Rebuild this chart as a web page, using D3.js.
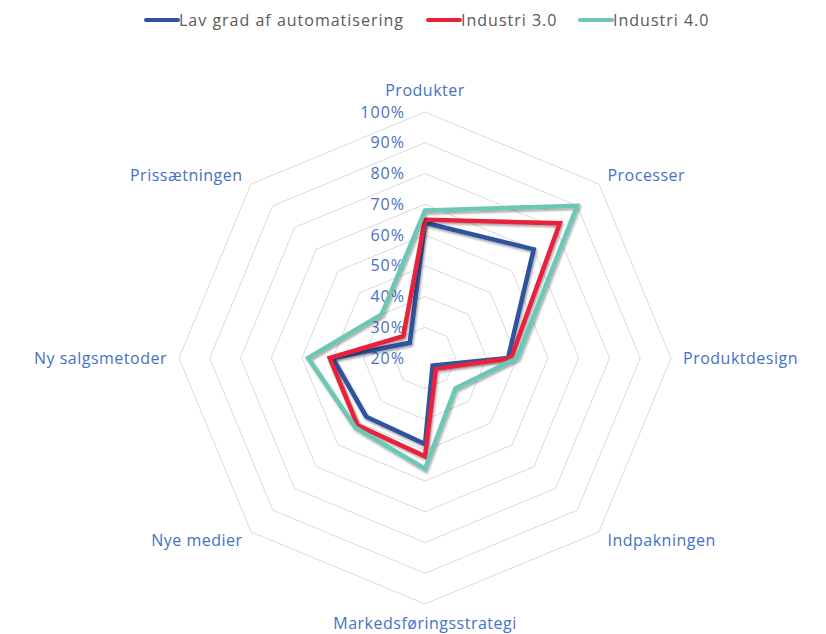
<!DOCTYPE html>
<html>
<head>
<meta charset="utf-8">
<script src="https://cdn.jsdelivr.net/npm/d3@7"></script>
<style>
  body { margin: 0; background: #fff; }
</style>
</head>
<body>
<script>
var categories = ["Produkter", "Processer", "Produktdesign", "Indpakningen",
  "Markedsføringsstrategi", "Nye medier", "Ny salgsmetoder", "Prissætningen"];
var seriesNames = ["Lav grad af automatisering", "Industri 3.0", "Industri 4.0"];
var seriesColors = ["rgb(47,82,160)", "rgb(232,32,58)", "rgb(108,200,180)"];
var lavGrad = [0.64, 0.70, 0.47, 0.235, 0.48, 0.47, 0.50, 0.27];
var industri3 = [0.65, 0.82, 0.48, 0.25, 0.52, 0.51, 0.51, 0.30];
var industri4 = [0.68, 0.90, 0.50, 0.34, 0.56, 0.52, 0.58, 0.40];
var ticks = [0.2, 0.3, 0.4, 0.5, 0.6, 0.7, 0.8, 0.9, 1.0];

var seriesValues = [lavGrad, industri3, industri4];

var width = 826, height = 634;
var cx = 425, cy = 358, outerRad = 246;
var pi = Math.PI;
var textBlue = "rgb(68,114,196)";

var svg = d3.select("body").append("svg")
  .attr("width", width).attr("height", height);

var defs = svg.append("defs");
var shadow = defs.append("filter").attr("id", "shadow")
  .attr("x", "-10%").attr("y", "-10%").attr("width", "120%").attr("height", "120%");
shadow.append("feDropShadow")
  .attr("dx", 1.2).attr("dy", 2)
  .attr("stdDeviation", 1.3)
  .attr("flood-color", "#000")
  .attr("flood-opacity", 0.35);

var r = d3.scaleLinear().domain([0.2, 1.0]).range([0, outerRad]);
var angle = d3.scalePoint().domain(d3.range(categories.length + 1)).range([0, 2 * pi]);

var g = svg.append("g").attr("transform", "translate(" + cx + "," + cy + ")");

// octagon grid rings
var ring = d3.lineRadial()
  .angle(function(d, i) { return angle(i); })
  .radius(function(d) { return r(d); })
  .curve(d3.curveLinearClosed);

ticks.slice(1).forEach(function(t) {
  g.append("path")
    .attr("d", ring(categories.map(function() { return t; })))
    .attr("fill", "none")
    .attr("stroke", "#d9d9d9")
    .attr("stroke-width", 1);
});

// value labels along the vertical axis
g.selectAll(".tick").data(ticks).enter().append("text")
  .attr("class", "tick")
  .attr("x", -20)
  .attr("y", function(d) { return -r(d); })
  .attr("dy", "0.35em")
  .attr("text-anchor", "end")
  .attr("font-family", "Open Sans, sans-serif")
  .attr("font-size", "16px")
  .attr("letter-spacing", "1px")
  .attr("fill", textBlue)
  .text(function(d) { return d3.format(".0%")(d); });

// series lines
var line = d3.lineRadial()
  .angle(function(d, i) { return angle(i); })
  .radius(function(d) { return r(d); })
  .curve(d3.curveLinearClosed);

seriesValues.forEach(function(vals, i) {
  g.append("path")
    .attr("d", line(vals))
    .attr("fill", "none")
    .attr("stroke", seriesColors[i])
    .attr("stroke-width", 4.5)
    .attr("stroke-linejoin", "miter")
    .attr("filter", "url(#shadow)");
});

// category labels
categories.forEach(function(c, i) {
  var a = angle(i);
  var s = Math.sin(a), co = Math.cos(a);
  var rad = outerRad + (Math.abs(s) < 0.01 ? (co > 0 ? 22 : 19) : 12);
  var anchor = s > 0.01 ? "start" : (s < -0.01 ? "end" : "middle");
  g.append("text")
    .attr("x", rad * s)
    .attr("y", -rad * co)
    .attr("dy", "0.35em")
    .attr("text-anchor", anchor)
    .attr("font-family", "Open Sans, sans-serif")
    .attr("font-size", "16px")
    .attr("letter-spacing", "0.5px")
    .attr("fill", textBlue)
    .text(c);
});

// legend
var legendX = [146, 428, 580];
seriesNames.forEach(function(n, i) {
  var lg = svg.append("g").attr("transform", "translate(" + legendX[i] + ",20)");
  lg.append("line")
    .attr("x1", 0).attr("x2", 32).attr("y1", 0).attr("y2", 0)
    .attr("stroke", seriesColors[i])
    .attr("stroke-width", 4)
    .attr("stroke-linecap", "round");
  lg.append("text")
    .attr("x", 33).attr("y", 0).attr("dy", "0.35em")
    .attr("font-family", "Open Sans, sans-serif")
    .attr("font-size", "16px")
    .attr("letter-spacing", "1px")
    .attr("fill", "#595959")
    .text(n);
});
</script>
</body>
</html>
